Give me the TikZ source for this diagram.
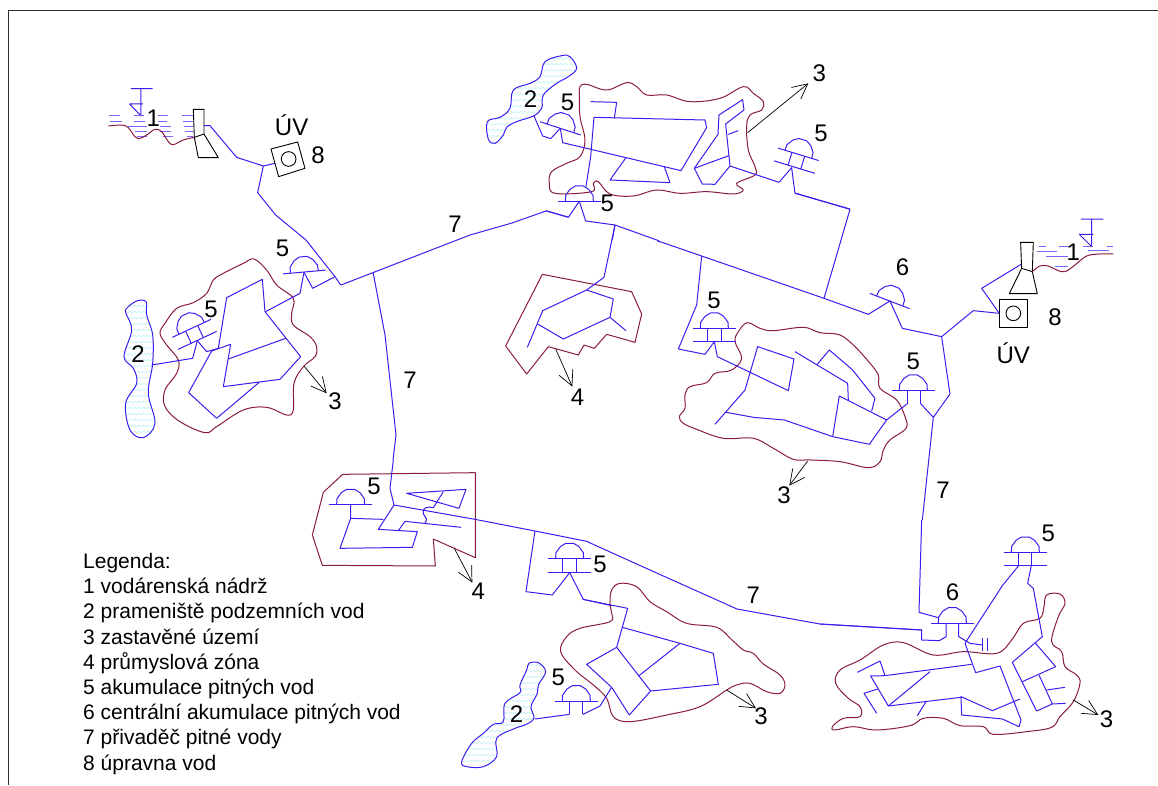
\documentclass[tikz,border=0pt]{standalone}
\usepackage{fontspec}
\setmainfont{Liberation Sans}
\usetikzlibrary{arrows.meta,decorations.pathmorphing}
\definecolor{netBlue}{HTML}{3A1EF0}
\definecolor{zoneRed}{HTML}{8A1C3C}
\definecolor{waterLine}{HTML}{7A66FF}
\definecolor{aquaWave}{HTML}{B5EEF5}
\definecolor{frameGrey}{HTML}{303030}
\tikzset{
  crop/.style 2 args={shift={(#1,#2)},x=0.3333pt,y=-0.3333pt},
  net/.style={draw=netBlue,line width=1pt,line join=round},
  water/.style={draw=waterLine,line width=1pt},
  zone/.style={draw=zoneRed,line width=1pt,line join=round},
  plant/.style={draw=black,line width=0.9pt,line join=round},
  pointer/.style={draw=black,line width=0.7pt,-{Straight Barb[length=15pt,width=15pt]}},
  num/.style={font=\fontsize{24}{24}\selectfont,inner sep=0pt},
  wave/.style={draw=aquaWave,line width=0.45pt,decorate,decoration={zigzag,segment length=4.5pt,amplitude=1pt}},
  pics/dome/.style={code={
    \draw[net] (-64,0) -- (64,0);
    \draw[net] (-42,0) -- (-41,-18) -- (-28,-36) -- (-12,-46) -- (12,-46) -- (28,-36) -- (41,-18) -- (42,0);
  }},
  pics/stems/.style={code={
    \draw[net] (-20,0) -- (-20,40) (20,0) -- (20,40);
  }},
  pics/tank/.style={code={
    \pic[transform shape] {dome};
    \pic[transform shape] {stems};
    \draw[net] (-64,40) -- (64,40);
  }},
}
% aquifer: outline points, then x range and y range of the wave rows
\newcommand{\aquifer}[5]{%
  \draw[fill=white,draw=none] plot[smooth cycle,tension=0.6] coordinates {#1};
  \begin{scope}
    \clip plot[smooth cycle,tension=0.6] coordinates {#1};
    \foreach \yy in {#4,\the\numexpr#4+18\relax,...,#5}
      \draw[wave] (#2,\yy) -- (#3,\yy);
  \end{scope}
  \draw[net] plot[smooth cycle,tension=0.6] coordinates {#1};
}
\begin{document}
\begin{tikzpicture}[x=1pt,y=-1pt]
\useasboundingbox (0,0) rectangle (1158,785);

% frame
\draw[frameGrey,line width=1pt] (8,785) -- (8,10) -- (1158,10);

% feeder between the crops
\draw[net] (341,285) -- (470,235) -- (512,223) -- (546,211) -- (568,217);
\draw[net] (373,272) -- (385,335) -- (396,435) -- (393,460);
\draw[net] (588,542) -- (650,570) -- (737,609) -- (820,624) -- (922,630);
\draw[net] (657,240) -- (660,242);

% top left reservoir
\begin{scope}[crop={90}{50}]
  \draw[net] (123,116) -- (188,116) (153,116) -- (153,198) -- (119,162) -- (159,162);
  \foreach \ya/\xa/\xb in {198/58/90,198/133/163,198/205/235,198/275/310,214/60/97,214/133/165,214/205/230,214/280/310,
      230/115/170,230/210/243,230/282/310,245/135/172,245/210/243,245/285/310,260/140/170,260/220/248,260/290/310}
    \draw[water] (\xa,\ya) -- (\xb,\ya);
  \draw[zone] plot[smooth,tension=0.6] coordinates {(55,228) (95,225) (115,233) (135,260) (150,265) (170,255) (195,238) (215,245) (235,275) (250,284) (280,270) (312,262)};
  \draw[plant,fill=white] (310,178) -- (342,178) -- (342,252) -- (385,323) -- (325,323) -- (313,262) -- cycle;
  \draw[plant] (313,262) -- (342,252);
  \draw[net] (342,227) -- (360,227) -- (440,322) -- (520,348) -- (555,340);
  \draw[net] (520,348) -- (503,428) -- (557,495) -- (648,570) -- (735,680) -- (752,705);
  \draw[plant] (543,297) -- (623,276) -- (645,355) -- (566,380) -- cycle;
  \draw[plant] (596,327) circle[radius=22];
  \node[num] (labelOneA) at (190,205) {1};
  \node[num] (labelWorksA) at (605,227) {ÚV};
  \node[num] (labelEightA) at (684,315) {8};
  \node[num] (labelFiveA) at (578,595) {5};
\end{scope}

% left district
\begin{scope}[crop={110}{250}]
  \draw[zone] plot[smooth cycle,tension=0.6] coordinates {(432,27) (400,40) (340,70) (310,90) (290,130) (250,158) (200,175) (165,220) (150,250) (170,285) (205,330) (200,370) (165,420) (165,470) (210,515) (285,548) (320,530) (400,480) (470,472) (530,495) (550,480) (552,400) (580,350) (615,320) (620,290) (600,260) (550,225) (545,190) (550,145) (500,105) (470,60)};
  \aquifer{(50,175) (80,153) (108,155) (110,195) (128,255) (128,340) (115,430) (135,520) (100,563) (60,540) (47,460) (80,400) (70,355) (42,320) (65,240) (48,190)}{30}{150}{150}{570}
  \pic[rotate=5] at (583,66) {dome};
  \pic[rotate=25] at (245,235) {tank};
  \draw[net] (582,67) -- (570,130) -- (467,185);
  \draw[net] (582,67) -- (608,115) -- (675,80);
  \draw[net] (262,272) -- (248,325) -- (125,345);
  \draw[net] (262,272) -- (290,305) -- (325,295) -- (350,143) -- (457,88) -- (465,185) -- (572,320) -- (510,388) -- (340,410) -- (362,283) -- (305,303) -- (236,428) -- (320,505) -- (450,395);
  \draw[net] (355,327) -- (527,265);
  \coordinate (zoneLeft) at (582,348);
  \coordinate (tipLeft) at (650,430);
  \draw[pointer] (zoneLeft) -- (tipLeft);
  \node[num] (labelTwoB) at (84,312) {2};
  \node[num] (labelFiveB) at (303,177) {5};
  \node[num] (labelThreeB) at (675,455) {3};
\end{scope}

% top district
\begin{scope}[crop={480}{40}]
  \draw[zone] plot[smooth cycle,tension=0.6] coordinates {(298,165) (300,140) (320,133) (380,150) (440,128) (470,140) (500,165) (560,165) (630,185) (720,175) (790,140) (820,160) (850,185) (845,210) (810,225) (800,260) (805,330) (825,380) (825,405) (770,430) (790,450) (760,462) (680,455) (600,460) (530,450) (460,468) (390,462) (355,425) (340,430) (335,455) (225,460) (208,430) (215,395) (260,370) (300,350) (315,300) (300,230)};
  \aquifer{(245,47) (270,50) (290,85) (265,110) (230,130) (190,165) (185,205) (160,228) (110,245) (80,262) (70,285) (45,310) (25,298) (22,245) (60,232) (90,205) (100,150) (150,130) (180,110) (195,65)}{10}{300}{55}{310}
  \pic[rotate=-18] at (241,265) {dome};
  \pic[rotate=-17] at (955,343) {tank};
  \pic at (298,484) {dome};
  \draw[net] (241,265) -- (212,296) -- (188,288) -- (162,228);
  \draw[net] (241,265) -- (248,308) -- (603,392) -- (680,263) -- (675,240) -- (342,232) -- (332,350) -- (318,440);
  \draw[net] (403,235) -- (410,187) -- (332,185);
  \draw[net] (438,353) -- (390,420) -- (570,428) -- (553,380);
  \draw[net] (643,385) -- (714,283) -- (717,225) -- (788,179) -- (792,210) -- (737,252) -- (750,378) -- (705,433) -- (667,432) -- cycle;
  \draw[net] (643,385) -- (747,347);
  \draw[net] (745,283) -- (775,272);
  \draw[net] (750,378) -- (897,427) -- (935,383) -- (945,460) -- (1110,507);
  \draw[net] (298,484) -- (265,532) -- (198,512);
  \draw[net] (298,484) -- (317,543) -- (405,555) -- (530,600);
  \draw[net] (405,555) -- (397,600);
  \coordinate (zoneTop) at (803,278);
  \coordinate (tipTop) at (985,130);
  \draw[pointer] (zoneTop) -- (tipTop);
  \node[num] (labelTwoC) at (152,178) {2};
  \node[num] (labelFiveC) at (263,187) {5};
  \node[num] (labelFiveD) at (382,490) {5};
  \node[num] (labelFiveE) at (1023,280) {5};
  \node[num] (labelThreeC) at (1018,100) {3};
\end{scope}

% industrial zone, upper
\begin{scope}[crop={490}{240}]
  \draw[zone] (157,103) -- (425,155) -- (455,222) -- (435,307) -- (350,283) -- (313,325) -- (282,315) -- (265,345) -- (175,320) -- (110,402) -- (47,318) -- cycle;
  \draw[net] (375,-45) -- (342,112) -- (290,150) -- (158,212) -- (112,322);
  \draw[net] (290,150) -- (370,177) -- (360,232) -- (220,297) -- (143,252);
  \draw[net] (360,232) -- (408,272);
  \coordinate (zoneFour) at (197,327);
  \coordinate (tipFour) at (247,440);
  \draw[pointer] (zoneFour) -- (tipFour);
  \node[num] (labelFourA) at (263,472) {4};
\end{scope}

% right district and second reservoir
\begin{scope}[crop={660}{200}]
  \draw[zone] plot[smooth cycle,tension=0.6] coordinates {(262,368) (300,385) (340,392) (430,382) (480,398) (540,405) (585,440) (630,490) (655,525) (660,565) (710,600) (735,650) (738,685) (690,720) (670,750) (660,785) (625,803) (540,785) (450,780) (400,778) (340,745) (280,715) (190,715) (110,688) (70,670) (58,650) (75,625) (75,585) (90,560) (140,548) (165,520) (215,510) (245,475) (225,425) (235,395)};
  \draw[net] (-9,122) -- (125,168) -- (492,295) -- (625,343) -- (690,303) -- (727,385) -- (845,410) -- (940,332) -- (1018,340);
  \draw[net] (405,-21) -- (570,28) -- (492,295);
  \draw[net] (125,168) -- (110,315) -- (55,447) -- (135,463) -- (163,425);
  \pic[rotate=-21] at (689,303) {dome};
  \pic at (163,385) {tank};
  \pic at (760,571) {dome};
  \pic at (762,571) {stems};
  \draw[net] (163,425) -- (172,470) -- (385,572) -- (402,477) -- (293,440) -- (255,570) -- (165,673);
  \draw[net] (405,455) -- (563,550) -- (565,600);
  \draw[net] (470,495) -- (508,450) -- (578,510) -- (645,595) -- (635,633);
  \draw[net] (538,588) -- (680,660) -- (628,733) -- (518,710) -- cycle;
  \draw[net] (198,637) -- (280,652) -- (373,660) -- (518,710);
  \draw[net] (680,660) -- (742,611);
  \draw[net] (782,611) -- (820,652) -- (870,582) -- (845,410);
  \draw[net] (820,652) -- (787,960);
  \draw[net] (1085,192) -- (965,265) -- (1018,340);
  \draw[plant,fill=white] (1082,127) -- (1120,127) -- (1117,215) -- (1132,281) -- (1048,281) -- (1085,205) -- cycle;
  \draw[plant] (1085,205) -- (1117,215);
  \draw[plant] (1018,297) rectangle (1102,382);
  \draw[plant] (1060,340) circle[radius=22];
  \draw[net] (1263,57) -- (1330,57) (1295,57) -- (1295,140) -- (1258,103) -- (1300,103);
  \foreach \ya/\xa/\xb in {138/1137/1158,138/1197/1230,138/1270/1300,138/1340/1360,155/1130/1192,151/1285/1347,170/1158/1225,200/1185/1225}
    \draw[water] (\xa,\ya) -- (\xb,\ya);
  \draw[zone] plot[smooth,tension=0.6] coordinates {(1117,215) (1140,198) (1165,198) (1190,210) (1215,215) (1245,195) (1280,168) (1320,162) (1360,162)};
  \coordinate (zoneRight) at (443,783);
  \coordinate (tipRight) at (388,857);
  \draw[pointer] (zoneRight) -- (tipRight);
  \node[num] (labelThreeD) at (372,885) {3};
  \node[num] (labelFiveF) at (162,300) {5};
  \node[num] (labelFiveG) at (760,483) {5};
  \node[num] (labelSixA) at (728,203) {6};
  \node[num] (labelOneB) at (1240,157) {1};
  \node[num] (labelEightB) at (1185,352) {8};
  \node[num] (labelWorksB) at (1060,460) {ÚV};
\end{scope}

% industrial zone, lower
\begin{scope}[crop={300}{460}]
  \draw[zone] (128,43) -- (526,38) -- (526,293) -- (400,237) -- (406,318) -- (67,316) -- (37,225) -- (70,97) -- cycle;
  \pic at (152,134) {dome};
  \pic at (809,296) {tank};
  \draw[net] (152,134) -- (152,175) -- (120,265) -- (337,262) -- (352,215) -- (235,208) -- (282,135) -- (270,85) -- (280,0);
  \draw[net] (152,175) -- (250,178);
  \draw[net] (282,135) -- (525,178) -- (705,213) -- (865,245);
  \draw[net] (295,212) -- (315,184) -- (483,202);
  \draw[net] (320,100) -- (498,88) -- (477,145) -- cycle;
  \draw[net] (430,95) -- (400,143) .. controls (365,135) and (365,160) .. (375,170) .. controls (385,180) and (375,185) .. (375,188);
  \draw[net] (809,338) -- (757,405) -- (678,395) -- (705,213);
  \draw[net] (809,338) -- (850,418) -- (935,437);
  \coordinate (zoneFourB) at (463,265);
  \coordinate (tipFourB) at (517,368);
  \draw[pointer] (zoneFourB) -- (tipFourB);
  \node[num] (labelFiveH) at (222,80) {5};
  \node[num] (labelFiveI) at (900,312) {5};
  \node[num] (labelFourB) at (535,395) {4};
\end{scope}

% south district
\begin{scope}[crop={460}{570}]
  \draw[zone] plot[smooth cycle,tension=0.6] coordinates {(450,100) (455,60) (480,40) (530,50) (570,95) (620,125) (680,160) (770,172) (816,210) (850,240) (880,250) (910,282) (960,315) (975,345) (960,370) (920,365) (870,340) (830,345) (800,360) (720,410) (620,435) (510,455) (460,440) (440,385) (400,345) (345,300) (302,245) (320,200) (360,175) (450,155) (455,130)};
  \aquifer{(207,280) (235,278) (257,305) (235,345) (232,370) (213,410) (222,445) (195,465) (165,475) (110,505) (110,560) (70,590) (20,590) (5,575) (35,520) (70,490) (100,463) (130,455) (135,400) (180,368) (180,345) (200,300)}{0}{270}{285}{590}
  \pic at (349,393) {dome};
  \pic at (349,393) {stems};
  \draw[net] (225,447) -- (329,433);
  \draw[net] (369,433) -- (420,408) -- (455,352);
  \draw[net] (368,88) -- (503,115) -- (470,232) -- (380,283) -- (455,352) -- (508,435) -- (572,363) -- (470,232);
  \draw[net] (487,172) -- (660,220) -- (760,250) -- (775,343) -- (572,363);
  \draw[net] (660,220) -- (537,317);
  \coordinate (zoneSouth) at (800,360);
  \coordinate (tipSouth) at (888,415);
  \draw[pointer] (zoneSouth) -- (tipSouth);
  \node[num] (labelFiveJ) at (295,323) {5};
  \node[num] (labelTwoD) at (170,432) {2};
  \node[num] (labelThreeE) at (903,440) {3};
  \node[num] (labelSevenD) at (880,75) {7};
\end{scope}

% east district
\begin{scope}[crop={820}{520}]
  \draw[zone] plot[smooth cycle,tension=0.6] coordinates {(680,225) (720,222) (735,250) (715,290) (695,365) (725,395) (735,440) (770,465) (780,490) (760,545) (720,590) (695,622) (620,635) (520,643) (490,620) (420,617) (370,595) (310,595) (270,617) (170,630) (100,620) (45,630) (37,620) (70,595) (120,590) (120,560) (85,535) (47,490) (60,450) (120,420) (190,375) (250,368) (340,405) (430,395) (530,400) (575,360) (610,310) (660,295) (672,260)};
  \pic at (397,309) {dome};
  \pic at (616,97) {tank};
  \draw[net] (305,0) -- (297,277) -- (355,293);
  \draw[net] (0,312) -- (305,330) -- (305,360) -- (358,362) -- (378,350) -- (378,309);
  \draw[net] (416,309) -- (416,350) -- (450,370) -- (487,375);
  \draw[net] (488,355) -- (488,392) (502,355) -- (502,392);
  \draw[net] (596,137) -- (547,197) -- (435,370) -- (467,458) -- (540,438) -- (603,600) -- (597,620) -- (547,597) -- (425,585) -- (423,530) -- (517,572) -- (600,537);
  \draw[net] (634,137) -- (623,190) -- (640,205) -- (667,350) -- (577,427) -- (650,573) -- (697,552) -- (737,550);
  \draw[net] (645,368) -- (707,440) -- (607,485);
  \draw[net] (657,465) -- (697,552);
  \draw[net] (680,510) -- (735,502);
  \draw[net] (455,433) -- (195,467) -- (180,423) -- (112,457);
  \draw[net] (195,467) -- (152,468) -- (205,558) -- (330,455);
  \draw[net] (205,558) -- (423,532);
  \draw[net] (318,545) -- (292,587);
  \draw[net] (173,507) -- (132,520) -- (170,580);
  \coordinate (zoneEast) at (760,540);
  \coordinate (tipEast) at (835,585);
  \draw[pointer] (zoneEast) -- (tipEast);
  \node[num] (labelFiveK) at (685,40) {5};
  \node[num] (labelSixB) at (398,217) {6};
  \node[num] (labelThreeF) at (860,597) {3};
\end{scope}

\node[num] (labelSevenA) at (455,224) {7};
\node[num] (labelSevenB) at (410,380) {7};
\node[num] (labelSevenC) at (943,490) {7};

% legend
\node[anchor=north west,inner sep=0pt,align=left,font=\fontsize{21}{25.2}\selectfont] (legend) at (83,553) {Legenda:\\
  1 vodárenská nádrž\\
  2 prameniště podzemních vod\\
  3 zastavěné území\\
  4 průmyslová zóna\\
  5 akumulace pitných vod\\
  6 centrální akumulace pitných vod\\
  7 přivaděč pitné vody\\
  8 úpravna vod};
\end{tikzpicture}
\end{document}
